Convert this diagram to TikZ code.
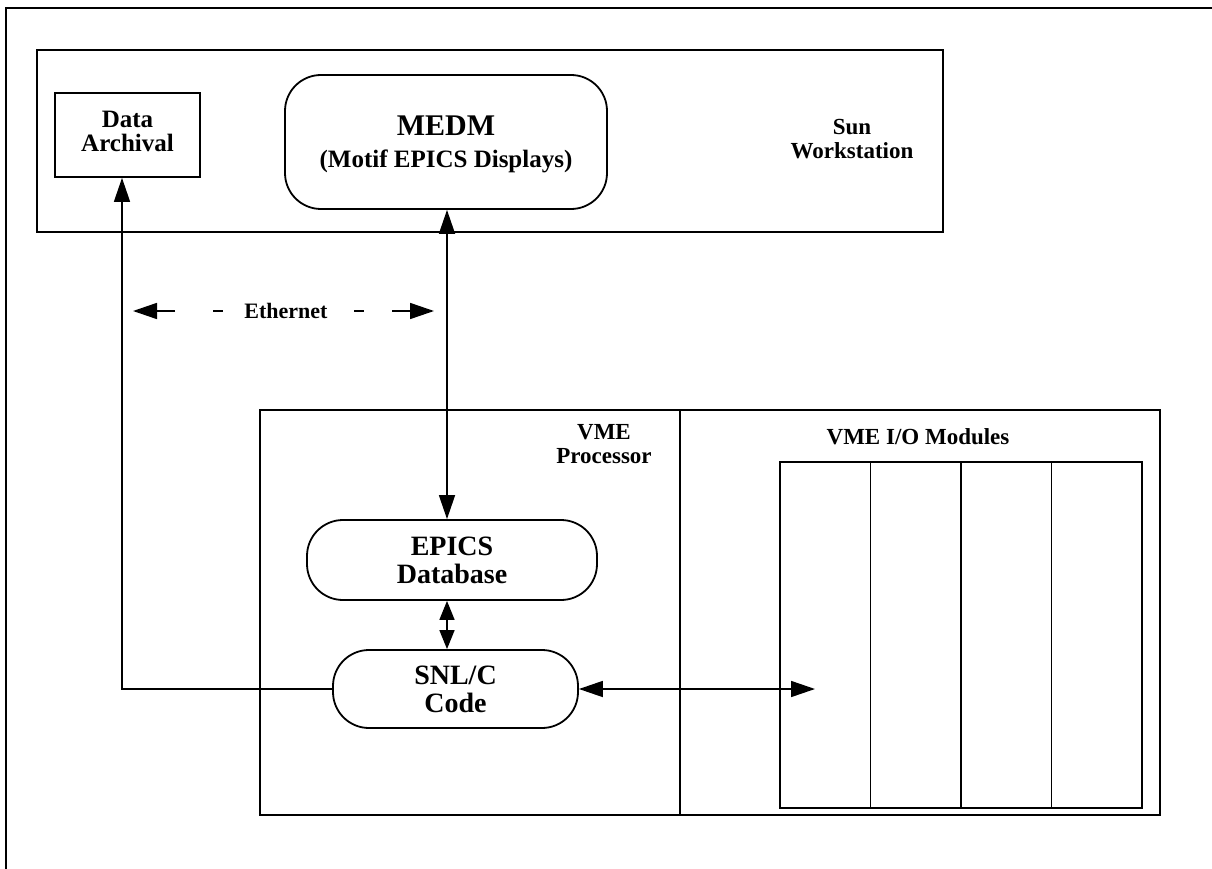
\documentclass[tikz,border=0pt]{standalone}
\usepackage{fontspec}
\setmainfont{Liberation Serif}
\usetikzlibrary{arrows.meta,calc}
\begin{document}
\begin{tikzpicture}[x=1pt,y=-1pt,
  box/.style={draw, line width=1.8pt, inner sep=0pt},
  rbox/.style={draw, line width=1.8pt, inner sep=0pt, rounded corners=36pt},
  lbl/.style={align=center, font=\bfseries\fontsize{23}{24.5}\selectfont},
  big/.style={align=center, font=\bfseries\fontsize{28}{28}\selectfont},
  conn/.style={line width=1.6pt},
  tip/.style={-{Triangle[length=24pt,width=16pt]}},
  dtip/.style={{Triangle[length=24pt,width=16pt]}-{Triangle[length=24pt,width=16pt]}},
  stip/.style={{Triangle[length=19pt,width=15pt]}-{Triangle[length=19pt,width=15pt]}},
]
\useasboundingbox (0,0) rectangle (1212,869);
% outer frame (top and left edges)
\draw[line width=1.8pt] (1212,8) -- (6,8) -- (6,869);

% Sun workstation
\node[box, minimum width=906pt, minimum height=182pt] (sun) at (490,141) {};
\node[lbl] (sunlbl) at (852,139) {Sun\\Workstation};
\node[box, minimum width=145pt, minimum height=84pt, align=center,
      font=\bfseries\fontsize{25}{24}\selectfont] (da) at (127.5,135) {};
\node[align=center, font=\bfseries\fontsize{25}{24}\selectfont] (datxt) at (127.5,131) {Data\\Archival};
\node[rbox, minimum width=322pt, minimum height=134pt] (medm) at (446,142) {};
\node[font=\bfseries\fontsize{30}{30}\selectfont] (medmtitle) at (446,126) {MEDM};
\node[font=\bfseries\fontsize{25}{25}\selectfont] (medmsub) at (446,161) {(Motif EPICS Displays)};

% VME crate
\node[box, minimum width=420pt, minimum height=405pt] (proc) at (470,612.5) {};
\node[lbl] (proclbl) at (604,444) {VME\\Processor};
\node[box, minimum width=480pt, minimum height=405pt] (io) at (920,612.5) {};
\node[lbl] (iolbl) at (918,437) {VME I/O Modules};
\node[box, minimum width=362pt, minimum height=346pt] (mods) at (961,635) {};
\draw[line width=1.8pt] (870.5,462) -- (870.5,808);
\draw[line width=1.8pt] (961,462) -- (961,808);
\draw[line width=1.8pt] (1051.5,462) -- (1051.5,808);

\node[rbox, minimum width=290pt, minimum height=80pt, big] (epics) at (452,560) {EPICS\\Database};
\node[rbox, minimum width=245pt, minimum height=78pt, big] (snl) at (455.5,689) {SNL/C\\Code};

% connectors
\coordinate (corner) at (122,689);
\draw[conn, tip] (snl.west) -- (corner) -- (corner |- da.south);
\coordinate (ax) at (447,0);
\draw[conn, dtip] (ax |- medm.south) -- (ax |- epics.north);
\draw[conn, stip] (ax |- epics.south) -- (ax |- snl.north);
\coordinate (iotip) at (815,689);
\draw[conn, dtip] (snl.east) -- (iotip);

% Ethernet
\node[font=\bfseries\fontsize{22}{22}\selectfont] (eth) at (286,311) {Ethernet};
\coordinate (el0) at (133,311);
\coordinate (el1) at (175,311);
\coordinate (ed1a) at (213,311);
\coordinate (ed1b) at (223,311);
\coordinate (ed2a) at (354,311);
\coordinate (ed2b) at (364,311);
\coordinate (er1) at (392,311);
\coordinate (er0) at (434,311);
\draw[conn, tip] (el1) -- (el0);
\draw[line width=2.2pt] (ed1a) -- (ed1b);
\draw[line width=2.2pt] (ed2a) -- (ed2b);
\draw[conn, tip] (er1) -- (er0);
\end{tikzpicture}
\end{document}
